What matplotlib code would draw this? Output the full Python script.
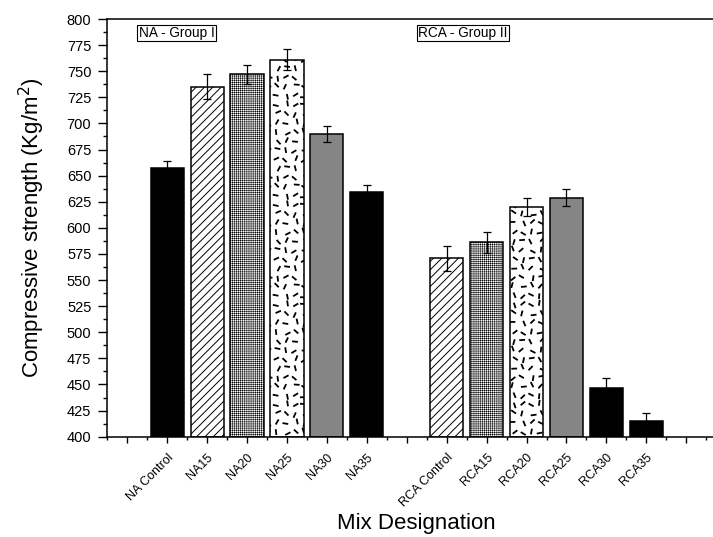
import warnings
import numpy as np
import matplotlib
matplotlib.use('Agg')
import matplotlib.pyplot as plt
from matplotlib import hatch as mhatch
from matplotlib.path import Path
from matplotlib.ticker import MultipleLocator, FixedLocator

warnings.filterwarnings('ignore')

# compressive strength of the mixes, with error
mixes = ['NA Control', 'NA15', 'NA20', 'NA25', 'NA30', 'NA35',
         'RCA Control', 'RCA15', 'RCA20', 'RCA25', 'RCA30', 'RCA35']
strength = [657, 735, 747, 761, 690, 634,
            571, 586, 620, 629, 447, 415]
err = [7, 12, 9, 10, 8, 7,
       12, 10, 9, 8, 9, 8]
groups = ['NA - Group I', 'RCA - Group II']

# fill / hatch for every bar
fills = ['black', 'white', 'white', 'white', '#858585', 'black',
         'white', 'white', 'white', '#858585', 'black', 'black']
hatches = [None, '////', '++++++++', 'd', None, None,
           '////', '++++++++', 'd', None, None, None]
hatch_lw = {None: 1.0, '////': 0.7, '++++++++': 0.35, 'd': 1.3}


# short scattered dashes as a hatch ('d')
_dash = []
_n = 11
for k in range(_n * _n):
    i, j = k % _n, k // _n
    cx = (i + 0.5 + 0.4 * (((k * 0.7548776) % 1) - 0.5)) / _n
    cy = (j + 0.5 + 0.4 * (((k * 0.5698403) % 1) - 0.5)) / _n
    a = np.pi * ((k * 0.618034) % 1)
    _dash.append((cx, cy, a))


class DashHatch(mhatch.HatchPatternBase):
    def __init__(self, hatch, density):
        self.num_vertices = 2 * len(_dash) if 'd' in hatch else 0

    def set_vertices_and_codes(self, vertices, codes):
        h = 0.02
        for k, (cx, cy, a) in enumerate(_dash):
            dx, dy = h * np.cos(a), h * np.sin(a)
            vertices[2 * k] = (cx - dx, cy - dy)
            vertices[2 * k + 1] = (cx + dx, cy + dy)
            codes[2 * k] = Path.MOVETO
            codes[2 * k + 1] = Path.LINETO


mhatch._hatch_types.append(DashHatch)

plt.rcParams['font.family'] = ['Liberation Sans', 'DejaVu Sans']
plt.rcParams['axes.linewidth'] = 1.1

x = list(range(1, 7)) + list(range(8, 14))

fig = plt.figure(figsize=(7.13, 5.37), dpi=100)
ax = fig.add_axes([0.1505, 0.1868, 0.868, 0.7778])

for xi, v, fc, hh in zip(x, strength, fills, hatches):
    with plt.rc_context({'hatch.linewidth': hatch_lw[hh]}):
        b = ax.bar(xi, v - 400, bottom=400, width=0.83, color=fc,
                   edgecolor='black', linewidth=1.1, hatch=hh, zorder=2)
    for p in b.patches:
        if hasattr(p, 'set_hatch_linewidth'):
            p.set_hatch_linewidth(hatch_lw[hh])

ax.errorbar(x, strength, yerr=err, fmt='none', ecolor='black',
            elinewidth=0.9, capsize=3.2, capthick=0.9, zorder=3)

ax.set_xlim(-0.5, 15)
ax.set_ylim(400, 800)
ax.yaxis.set_major_locator(MultipleLocator(25))
ax.yaxis.set_minor_locator(MultipleLocator(12.5))
ax.xaxis.set_major_locator(FixedLocator(list(range(0, 15))))
ax.xaxis.set_minor_locator(FixedLocator([i + 0.5 for i in range(-1, 15)]))
labels = [''] + mixes[:6] + [''] + mixes[6:] + ['']
ax.set_xticklabels(labels, rotation=45, ha='right', va='top',
                   rotation_mode='anchor', fontsize=9)
ax.tick_params(axis='x', which='major', length=4.5, width=1.0, pad=6)
ax.tick_params(axis='x', which='minor', length=2.5, width=1.0)
ax.tick_params(axis='y', which='major', length=6.5, width=1.0, pad=5,
               labelsize=10.5)
ax.tick_params(axis='y', which='minor', length=3, width=1.0)
ax.spines['right'].set_visible(False)

ax.set_ylabel('Compressive strength (Kg/m$^2$)', fontsize=16, labelpad=14)
ax.set_xlabel('Mix Designation', fontsize=16, labelpad=3)

for gx, g in zip([0.29, 7.29], groups):
    ax.text(gx, 786.5, g, fontsize=9.8, va='center', ha='left',
            bbox=dict(boxstyle='square,pad=0.1', fc='white',
                      ec='black', lw=0.8))

fig.savefig('out.png', dpi=100)
